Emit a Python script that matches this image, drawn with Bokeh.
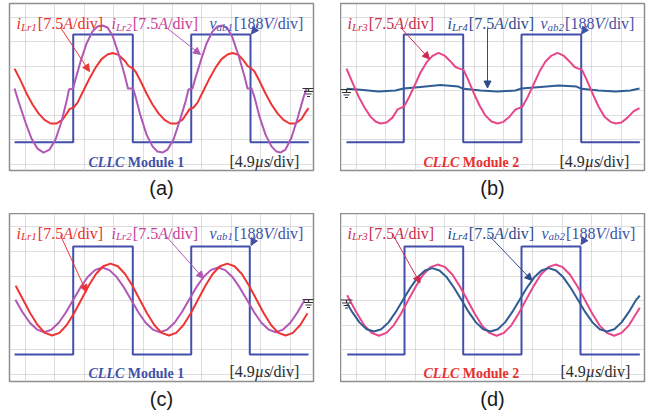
from bokeh.plotting import figure
from bokeh.layouts import gridplot
from bokeh.models import Range1d, FixedTicker, Title, Arrow, NormalHead
from bokeh.core.properties import value
from bokeh.embed import file_html
from bokeh.resources import INLINE

# ---------------- scope settings ----------------
T_DIV = 4.9      # us / div
I_DIV = 7.5      # A / div
V_DIV = 188.0    # V / div
x_grid = [T_DIV * k for k in range(0, 10)]   # us
y_grid = [-3, -2, -1, 0, 1, 2, 3]            # div
x_lo, x_hi = -2.67, 48.0                     # us
y_hi = 3.551                                 # div
y_lo_top, y_lo_bottom = -3.265, -3.306       # div

# ---------------- (a) Module 1 ----------------
a_t_vab = [-1.83, 7.95, 17.88, 27.62, 37.50, 47.22]
a_vab = [-397, 430, -397, 430, -397, -397]
a_t_ilr1 = [-1.83, -0.83, 0.17, 1.17, 2.17, 3.17, 4.17, 5.17, 6.17, 7.0, 7.33, 8.0, 8.67, 9.67, 10.67,
            11.67, 12.67, 13.67, 14.5, 15.5, 16.5, 17.17, 17.92, 18.33, 19.17, 20.17, 21.17, 22.17,
            23.17, 24.17, 25.17, 26.17, 27.0, 27.33, 28.0, 28.67, 29.67, 30.67, 31.67, 32.67, 33.67,
            34.5, 35.5, 36.33, 37.0, 37.67, 38.17, 39.0, 40.0, 41.0, 42.0, 43.0, 44.0, 45.0, 46.0,
            46.67, 47.17]
a_ilr1 = [6.7, 3.1, -0.9, -4.3, -7.0, -9.0, -10.1, -10.1, -8.9, -6.7, -5.7, -5.2, -3.7, 0.0, 3.7,
          7.0, 9.6, 11.0, 11.5, 10.9, 9.2, 7.5, 6.7, 5.8, 2.9, -0.9, -4.3, -7.0, -9.0, -10.1,
          -10.1, -8.9, -6.7, -5.7, -5.2, -3.7, 0.0, 3.7, 7.0, 9.6, 11.0, 11.5, 10.9, 9.2, 7.5,
          6.7, 5.8, 2.9, -0.9, -4.3, -7.0, -9.0, -10.1, -10.1, -8.7, -6.7, -5.4]
a_t_ilr2 = [-1.83, -1.0, 0.0, 1.0, 2.0, 3.0, 4.0, 5.0, 6.0, 6.83, 7.25, 7.92, 8.33, 9.17, 10.17,
            11.17, 12.0, 12.83, 13.67, 14.5, 15.5, 16.5, 17.08, 17.92, 18.33, 19.17, 20.17, 21.17,
            22.0, 22.83, 23.67, 24.67, 25.67, 26.67, 27.17, 27.83, 28.25, 29.17, 30.17, 31.17, 32.0,
            32.83, 33.67, 34.5, 35.5, 36.5, 37.0, 37.67, 38.17, 39.0, 40.0, 41.0, 41.83, 42.5, 43.33,
            44.33, 45.33, 46.33, 46.83]
a_ilr2 = [0.6, -4.3, -9.8, -14.7, -17.8, -19.0, -18.1, -15.0, -9.5, -3.4, 0.3, 0.6, 3.4, 8.9, 14.4,
          18.1, 19.6, 19.9, 19.3, 16.8, 11.3, 4.9, 0.6, 0.6, -1.8, -7.7, -13.5, -17.1, -18.7, -19.0,
          -18.1, -15.0, -9.5, -3.4, 0.3, 0.6, 3.4, 8.9, 14.4, 18.1, 19.6, 19.9, 19.0, 16.2, 10.7,
          4.3, 0.6, 0.6, -2.1, -8.0, -13.5, -17.1, -18.7, -19.0, -18.1, -14.4, -8.6, -2.1, 0.6]

# ---------------- (b) Module 2 ----------------
b_t_vab = [-1.67, 7.88, 17.78, 27.50, 37.45, 47.22]
b_vab = [-397, 430, -397, 430, -397, -397]
b_t_ilr3 = [-1.67, -0.67, 0.33, 1.33, 2.33, 3.17, 4.0, 5.0, 6.0, 6.83, 7.33, 7.92, 8.67, 9.67, 10.67,
            11.67, 12.67, 13.67, 14.67, 15.67, 16.5, 17.17, 17.83, 18.5, 19.5, 20.5, 21.5, 22.5, 23.5,
            24.5, 25.5, 26.5, 27.08, 27.67, 28.5, 29.5, 30.5, 31.5, 32.5, 33.5, 34.5, 35.5, 36.33,
            37.0, 37.58, 38.33, 39.33, 40.33, 41.33, 42.33, 43.17, 44.17, 45.17, 46.17, 47.17]
b_ilr3 = [6.7, 2.4, -1.8, -5.2, -8.0, -9.5, -10.1, -9.8, -8.3, -5.8, -5.4, -4.9, -2.4, 1.5, 5.5,
          8.6, 10.6, 11.5, 10.7, 8.9, 7.2, 6.7, 6.3, 3.7, -0.6, -4.6, -7.7, -9.5, -10.1, -9.6,
          -8.0, -5.8, -5.4, -4.9, -2.1, 1.8, 5.8, 8.9, 10.7, 11.5, 10.7, 8.9, 7.2, 6.7, 6.3,
          3.4, -0.9, -4.9, -8.0, -9.6, -10.1, -9.8, -8.3, -6.4, -5.4]
b_t_ilr4 = [-1.67, 0.67, 3.67, 6.5, 7.83, 10.67, 14.0, 17.0, 17.83, 20.67, 23.5, 26.5, 27.5, 30.67,
            33.67, 36.67, 37.5, 40.33, 43.17, 45.67, 47.17]
b_ilr4 = [0.5, 0.2, -0.3, 0.0, 0.6, 1.1, 1.7, 1.2, 0.5, 0.0, -0.3, 0.0, 0.6, 1.1, 1.5, 1.2, 0.5,
          0.0, -0.3, 0.0, 0.6]

# ---------------- (c) Module 1 ----------------
c_t_vab = [-1.83, 7.95, 17.88, 27.62, 37.38, 47.17]
c_vab = [-414, 414, -414, 414, -414, -414]
c_t_ilr1 = [-1.64, -0.42, 0.79, 2.01, 3.23, 4.44, 5.66, 6.87, 8.09, 9.31, 10.52, 11.74, 12.95, 14.17,
            15.39, 16.60, 17.82, 19.03, 20.25, 21.47, 22.68, 23.90, 25.11, 26.33, 27.55, 28.76,
            29.98, 31.19, 32.41, 33.63, 34.84, 36.06, 37.27, 38.49, 39.71, 40.92, 42.14, 43.35,
            44.57, 45.79, 47.00]
c_ilr1 = [4.5, 0.3, -3.9, -7.5, -9.9, -10.7, -9.9, -7.5, -3.9, 0.3, 4.5, 8.1, 10.5, 11.3, 10.5, 8.1,
          4.5, 0.3, -3.9, -7.5, -9.9, -10.7, -9.9, -7.5, -3.9, 0.3, 4.5, 8.1, 10.5, 11.3, 10.5, 8.1,
          4.5, 0.3, -3.9, -7.5, -9.9, -10.7, -9.9, -7.5, -3.9]
c_t_ilr2 = [-1.69, -0.49, 0.72, 1.93, 3.13, 4.34, 5.54, 6.75, 7.96, 9.16, 10.37, 11.57, 12.78, 13.99,
            15.19, 16.40, 17.60, 18.81, 20.02, 21.22, 22.43, 23.63, 24.84, 26.05, 27.25, 28.46,
            29.66, 30.87, 32.08, 33.28, 34.49, 35.69, 36.90, 38.11, 39.31, 40.52, 41.72, 42.93,
            44.14, 45.34, 46.55]
c_ilr2 = [0.2, -3.6, -6.8, -8.9, -9.7, -8.9, -6.8, -3.6, 0.2, 4.0, 7.2, 9.3, 10.1, 9.3, 7.2, 4.0,
          0.2, -3.6, -6.8, -8.9, -9.7, -8.9, -6.8, -3.6, 0.2, 4.0, 7.2, 9.3, 10.1, 9.3, 7.2, 4.0,
          0.2, -3.6, -6.8, -8.9, -9.7, -8.9, -6.8, -3.6, 0.2]

# ---------------- (d) Module 2 ----------------
d_t_vab = [-1.55, 8.0, 17.78, 27.5, 37.33, 47.22]
d_vab = [-414, 414, -414, 414, -414, -414]
d_t_ilr3 = [-1.55, -1.15, 0.08, 1.30, 2.53, 3.75, 4.98, 6.20, 7.43, 8.65, 9.88, 11.10, 12.33, 13.55,
            14.78, 16.0, 17.23, 18.45, 19.68, 20.90, 22.13, 23.35, 24.58, 25.80, 27.03, 28.25,
            29.48, 30.70, 31.93, 33.15, 34.38, 35.60, 36.83, 38.05, 39.28, 40.50, 41.73, 42.95,
            44.18, 45.40, 46.63, 47.22]
d_ilr3 = [1.6, 0.2, -4.0, -7.6, -9.9, -10.8, -9.9, -7.6, -4.0, 0.2, 4.3, 7.9, 10.2, 11.0, 10.2, 7.9,
          4.3, 0.2, -4.0, -7.6, -9.9, -10.8, -9.9, -7.6, -4.0, 0.2, 4.3, 7.9, 10.2, 11.0, 10.2, 7.9,
          4.3, 0.2, -4.0, -7.6, -9.9, -10.8, -9.9, -7.6, -4.0, -2.2]
d_t_ilr4 = [-1.55, -0.73, 0.48, 1.69, 2.91, 4.12, 5.34, 6.55, 7.76, 8.98, 10.19, 11.41, 12.62, 13.83,
            15.05, 16.26, 17.48, 18.69, 19.90, 21.12, 22.33, 23.55, 24.76, 25.97, 27.19, 28.40,
            29.62, 30.83, 32.05, 33.26, 34.47, 35.69, 36.90, 38.11, 39.33, 40.54, 41.76, 42.97,
            44.18, 45.40, 46.61, 47.22]
d_ilr4 = [-1.0, -3.5, -6.7, -8.8, -9.5, -8.8, -6.7, -3.5, 0.2, 3.9, 7.1, 9.2, 9.9, 9.2, 7.1, 3.9,
          0.2, -3.5, -6.7, -8.8, -9.5, -8.8, -6.7, -3.5, 0.2, 3.9, 7.1, 9.2, 9.9, 9.2, 7.1, 3.9,
          0.2, -3.5, -6.7, -8.8, -9.5, -8.8, -6.7, -3.5, 0.2, 1.5]

# ---------------- colours ----------------
RED = "#ee3535"
PURPLE = "#b158b6"
SQ_BLUE = "#4250aa"
PINK = "#e8458a"
NAVY = "#2f5c93"
TXT_RED = "#e8302f"
TXT_MAG = "#c63d98"
TXT_BLUE = "#4251a8"
TXT_CRIM = "#c92d50"
TXT_NAVY = "#2c4b8b"
TXT_DARK = "#2b2b2b"

# Times metrics (1/1000 em) for laying out rich labels
W = {
    "normal": {"[": 333, "]": 333, ".": 250, "/": 278, "d": 500, "i": 278, "v": 500, " ": 250},
    "italic": {"i": 278, "v": 444, "L": 556, "r": 389, "a": 500, "b": 500, "A": 611, "V": 611,
               "µ": 500, "s": 389},
    "bold": {"M": 944, "o": 500, "d": 556, "u": 556, "l": 278, "e": 444, " ": 250},
    "bold italic": {"C": 667, "L": 611},
}


def adv(text, style, size):
    return sum(W[style].get(c, 500) for c in text) * size / 1000.0


def make_panel(width, height, ml, mt, mr, mb, y_lo, tag):
    p = figure(width=width, height=height, x_range=Range1d(x_lo, x_hi), y_range=Range1d(y_lo, y_hi),
               output_backend="svg", toolbar_location=None, x_axis_location=None, y_axis_location=None,
               min_border_left=ml, min_border_top=mt, min_border_right=mr, min_border_bottom=mb,
               background_fill_color="white", border_fill_color="white",
               outline_line_color="#8e8e8e", outline_line_width=1.5)
    p.xgrid.ticker = FixedTicker(ticks=x_grid)
    p.ygrid.ticker = FixedTicker(ticks=y_grid)
    for g in (p.xgrid, p.ygrid):
        g.grid_line_color = "#bdbdbd"
        g.grid_line_dash = "1 1"
        g.grid_line_width = 1
    p.add_layout(Title(text=tag, align="center", text_font="Liberation Sans", text_font_size="20px",
                       text_font_style="normal", text_color="#1a1a1a", standoff=8), "below")
    return p


def conv(x0, yc):
    return (lambda px: (px - x0) / 6.0), (lambda py: (yc - py) / 24.5)


def rich(p, tx, ty, x_px, base_py, frags):
    x = x_px
    for text, style, size, dy, color in frags:
        if text.startswith(" "):
            x += adv(" ", style, size)
            text = text[1:]
        p.text(x=[tx(x)], y=[ty(base_py + dy)], text=[text], text_font=value("Liberation Serif"),
               text_font_size=f"{size}px", text_font_style=style, text_color=color,
               text_align="left", text_baseline="alphabetic")
        x += adv(text, style, size) + (1.0 if dy else 0.0)


def cur_label(sub, c):
    return [("i", "italic", 16, 0, c), (sub, "italic", 11, 3, c), ("[7.5", "normal", 16, 0, c),
            ("A", "italic", 16, 0, c), ("/div]", "normal", 16, 0, c)]


def volt_label(sub, c):
    return [("v", "italic", 16, 0, c), (sub, "italic", 11, 3, c), ("[188", "normal", 16, 0, c),
            ("V", "italic", 16, 0, c), ("/div]", "normal", 16, 0, c)]


time_label = [("[4.9", "normal", 16, 0, TXT_DARK), ("µs", "italic", 16, 0, TXT_DARK),
              ("/div]", "normal", 16, 0, TXT_DARK)]


def module_label(n, c):
    return [("CLLC", "bold italic", 14, 0, c), (f" Module {n}", "bold", 14, 0, c)]


def arrow(p, tx, ty, x1, y1, x2, y2, c):
    p.add_layout(Arrow(end=NormalHead(size=7, fill_color=c, line_color=c, line_width=1),
                       x_start=tx(x1), y_start=ty(y1), x_end=tx(x2), y_end=ty(y2),
                       line_color=c, line_width=1))


def ground(p, tx, ty, cx, top):
    xs0 = [cx - 6, cx, cx - 4.5, cx - 3, cx - 1.5]
    xs1 = [cx + 6, cx, cx + 4.5, cx + 3, cx + 1.5]
    ys0 = [top, top, top + 3, top + 5.5, top + 8]
    ys1 = [top, top + 3, top + 3, top + 5.5, top + 8]
    p.segment(x0=[tx(v) for v in xs0], y0=[ty(v) for v in ys0], x1=[tx(v) for v in xs1],
              y1=[ty(v) for v in ys1], line_color="#333333", line_width=1.2)


def trace(p, t, vals, per_div, color, width=2.0):
    p.line(t, [v / per_div for v in vals], line_color=color, line_width=width, line_join="round")


def square(p, t, vals):
    p.step(t, [v / V_DIV for v in vals], mode="after", line_color=SQ_BLUE, line_width=2.0)


# ---------------- panels ----------------
pa = make_panel(340, 213, 9, 3, 27, 43, y_lo_top, "(a)")
pb = make_panel(310, 213, 0, 3, 6, 43, y_lo_top, "(b)")
pc = make_panel(340, 205, 9, 0, 27, 37, y_lo_bottom, "(c)")
pd = make_panel(310, 205, 0, 0, 6, 37, y_lo_bottom, "(d)")

# (a)
tx, ty = conv(25, 90)
square(pa, a_t_vab, a_vab)
trace(pa, a_t_ilr1, a_ilr1, I_DIV, RED)
trace(pa, a_t_ilr2, a_ilr2, I_DIV, PURPLE)
ground(pa, tx, ty, 308, 88)
rich(pa, tx, ty, 16, 23, cur_label("Lr1", TXT_RED))
rich(pa, tx, ty, 111, 23, cur_label("Lr2", TXT_MAG))
rich(pa, tx, ty, 209, 23, volt_label("ab1", TXT_BLUE))
rich(pa, tx, ty, 88, 162, module_label(1, TXT_BLUE))
rich(pa, tx, ty, 229, 160.5, time_label)
arrow(pa, tx, ty, 60, 27, 89, 71, RED)
arrow(pa, tx, ty, 167, 28, 200, 54, PURPLE)
arrow(pa, tx, ty, 258, 24, 251, 33.5, TXT_BLUE)

# (b)
tx, ty = conv(356, 90)
square(pb, b_t_vab, b_vab)
trace(pb, b_t_ilr4, b_ilr4, I_DIV, NAVY)
trace(pb, b_t_ilr3, b_ilr3, I_DIV, PINK)
ground(pb, tx, ty, 346, 89)
rich(pb, tx, ty, 347, 23, cur_label("Lr3", TXT_CRIM))
rich(pb, tx, ty, 447, 23, cur_label("Lr4", TXT_NAVY))
rich(pb, tx, ty, 540, 23, volt_label("ab2", TXT_BLUE))
rich(pb, tx, ty, 423, 162, module_label(2, TXT_RED))
rich(pb, tx, ty, 559, 160.5, time_label)
arrow(pb, tx, ty, 400, 27, 429, 58.5, TXT_CRIM)
arrow(pb, tx, ty, 487, 28, 487, 87.5, TXT_NAVY)
arrow(pb, tx, ty, 587, 25, 581, 33.5, TXT_BLUE)

# (c)
tx, ty = conv(25, 300)
square(pc, c_t_vab, c_vab)
trace(pc, c_t_ilr2, c_ilr2, I_DIV, PURPLE)
trace(pc, c_t_ilr1, c_ilr1, I_DIV, RED)
ground(pc, tx, ty, 308, 299)
rich(pc, tx, ty, 16, 233, cur_label("Lr1", TXT_RED))
rich(pc, tx, ty, 111, 233, cur_label("Lr2", TXT_MAG))
rich(pc, tx, ty, 209, 233, volt_label("ab1", TXT_BLUE))
rich(pc, tx, ty, 88, 373, module_label(1, TXT_BLUE))
rich(pc, tx, ty, 229, 371, time_label)
arrow(pc, tx, ty, 60, 235, 86, 291.5, RED)
arrow(pc, tx, ty, 165, 235, 203, 278, PURPLE)
arrow(pc, tx, ty, 255, 236.5, 250.5, 245, TXT_BLUE)

# (d)
tx, ty = conv(356, 300)
square(pd, d_t_vab, d_vab)
trace(pd, d_t_ilr3, d_ilr3, I_DIV, PINK)
trace(pd, d_t_ilr4, d_ilr4, I_DIV, NAVY)
ground(pd, tx, ty, 346, 299.5)
rich(pd, tx, ty, 347, 233, cur_label("Lr3", TXT_CRIM))
rich(pd, tx, ty, 447, 233, cur_label("Lr4", TXT_NAVY))
rich(pd, tx, ty, 541, 233, volt_label("ab2", TXT_BLUE))
rich(pd, tx, ty, 423, 373, module_label(2, TXT_RED))
rich(pd, tx, ty, 560, 371, time_label)
arrow(pd, tx, ty, 392, 233.5, 419.5, 282.5, TXT_CRIM)
arrow(pd, tx, ty, 487, 233.5, 531.5, 280, TXT_NAVY)
arrow(pd, tx, ty, 586, 236, 580.5, 244, TXT_BLUE)

grid = gridplot([[pa, pb], [pc, pd]], toolbar_location=None)

open("out.html", "w").write(file_html(grid, INLINE))
